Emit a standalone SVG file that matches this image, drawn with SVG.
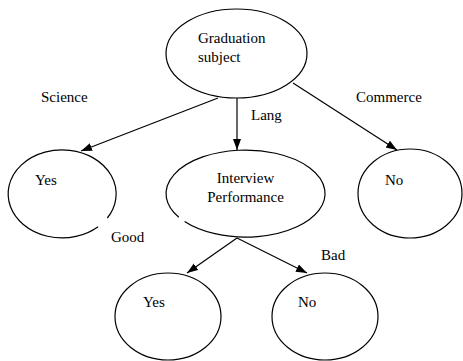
<svg xmlns="http://www.w3.org/2000/svg" width="463" height="361" viewBox="0 0 463 361">
<style>
.n{fill:none;stroke:#000;stroke-width:1.2}
.e{stroke:#000;stroke-width:1.2;fill:none}
text{font-family:"Liberation Serif","Times New Roman",serif;font-size:15px;fill:#000}
</style>
<defs>
<marker id="ah" markerUnits="userSpaceOnUse" markerWidth="12" markerHeight="10" refX="11" refY="4" orient="auto">
<path d="M0,0 L11,4 L0,8 Z" fill="#000"/>
</marker>
</defs>
<rect width="463" height="361" fill="#fff"/>
<g id="connectors">
<line class="e" x1="218" y1="98" x2="81" y2="151" marker-end="url(#ah)"/>
<line class="e" x1="237" y1="98" x2="237" y2="150" marker-end="url(#ah)"/>
<line class="e" x1="293" y1="83" x2="397" y2="150" marker-end="url(#ah)"/>
<line class="e" x1="237" y1="238" x2="187" y2="273" marker-end="url(#ah)"/>
<line class="e" x1="237" y1="238" x2="307" y2="273" marker-end="url(#ah)"/>
<text x="41" y="102">Science</text>
<text x="251" y="120">Lang</text>
<text x="356" y="102">Commerce</text>
<text x="111" y="242">Good</text>
<text x="321" y="260">Bad</text>
</g>
<g id="root">
<ellipse class="n" cx="236.5" cy="53.5" rx="70.5" ry="44.5"/>
<text x="198" y="43">Graduation</text>
<text x="198" y="62">subject</text>
</g>
<g id="yes1">
<path class="n" d="M98.1 226.7 A54 44 0 1 1 107.3 218"/>
<text x="35" y="185">Yes</text>
</g>
<g id="interview">
<path class="n" d="M178.8 217.2 A79.5 43.5 0 1 1 184.6 221.5"/>
<text x="245.5" y="183" text-anchor="middle">Interview</text>
<text x="245.5" y="202" text-anchor="middle">Performance</text>
</g>
<g id="no1">
<ellipse class="n" cx="410" cy="193.5" rx="52" ry="44.5"/>
<text x="385" y="185">No</text>
</g>
<g id="yes2">
<ellipse class="n" cx="168" cy="316.5" rx="53" ry="43.5"/>
<text x="143" y="307">Yes</text>
</g>
<g id="no2">
<ellipse class="n" cx="325" cy="316.5" rx="53" ry="43.5"/>
<text x="298" y="307">No</text>
</g>
</svg>
